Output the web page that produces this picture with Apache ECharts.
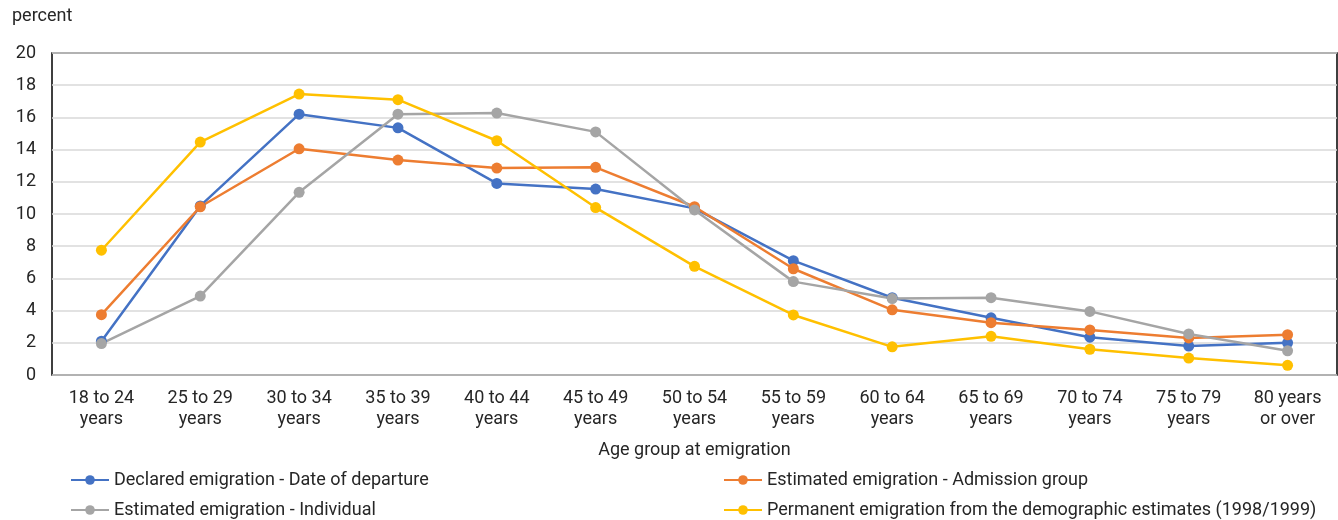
<!DOCTYPE html>
<html>
<head>
<meta charset="utf-8">
<script src="https://cdn.jsdelivr.net/npm/echarts@6/dist/echarts.min.js"></script>
<style>html,body{margin:0;padding:0;background:#fff}#c{width:1338px;height:520px}</style>
</head>
<body>
<div id="c"></div>
<script>
const categories = ['18 to 24\nyears','25 to 29\nyears','30 to 34\nyears','35 to 39\nyears','40 to 44\nyears','45 to 49\nyears','50 to 54\nyears','55 to 59\nyears','60 to 64\nyears','65 to 69\nyears','70 to 74\nyears','75 to 79\nyears','80 years\nor over'];
const declaredDeparture = [2.1, 10.5, 16.2, 15.35, 11.9, 11.55, 10.35, 7.1, 4.8, 3.55, 2.35, 1.8, 2.0];
const estimatedAdmission = [3.75, 10.45, 14.05, 13.35, 12.85, 12.9, 10.45, 6.6, 4.05, 3.25, 2.8, 2.3, 2.5];
const estimatedIndividual = [1.95, 4.9, 11.35, 16.2, 16.27, 15.1, 10.25, 5.8, 4.75, 4.8, 3.95, 2.55, 1.5];
const permanentDemographic = [7.75, 14.47, 17.45, 17.1, 14.55, 10.4, 6.75, 3.73, 1.75, 2.4, 1.6, 1.05, 0.6];
const seriesNames = ['Declared emigration - Date of departure','Estimated emigration - Admission group','Estimated emigration - Individual','Permanent emigration from the demographic estimates (1998/1999)'];
const colors = ['#4472C4','#ED7D31','#A5A5A5','#FFC000'];
const yTicks = {min:0, max:20, interval:2};

const FONT = 'Roboto, "Liberation Sans", sans-serif';
const chart = echarts.init(document.getElementById('c'), null, {renderer:'canvas'});
const dataSets = [declaredDeparture, estimatedAdmission, estimatedIndividual, permanentDemographic];
const legendText = {fontFamily: FONT, fontSize: 18, color: '#262626'};
const legendPos = [[70,471],[723,471],[70,501],[723,501]];
chart.setOption({
  animation: false,
  color: colors,
  textStyle: {fontFamily: FONT},
  grid: {left: 52, right: 1, top: 53, bottom: 145, show: true, borderColor: '#000', borderWidth: 1.5, backgroundColor: 'transparent'},
  graphic: [
    {type:'text', left: 12, top: 7, style:{text:'percent', font:'18px ' + FONT, fill:'#262626'}}
  ],
  legend: seriesNames.map((n,i) => ({
    left: legendPos[i][0], top: legendPos[i][1], itemWidth: 38, itemHeight: 12, padding: 0,
    data: [n], textStyle: legendText
  })),
  xAxis: {
    type:'category', data: categories, boundaryGap: true,
    name: 'Age group at emigration', nameLocation:'middle', nameGap: 66,
    nameTextStyle:{fontFamily: FONT, fontSize: 18, color:'#262626'},
    axisLine:{show:false}, axisTick:{show:false},
    axisLabel:{fontFamily: FONT, fontSize: 18, color:'#262626', margin: 13, lineHeight: 21, interval: 0}
  },
  yAxis: {
    type:'value', min: yTicks.min, max: yTicks.max, interval: yTicks.interval,
    axisLine:{show:false}, axisTick:{show:false},
    axisLabel:{fontFamily: FONT, fontSize: 18, color:'#262626', margin: 16},
    splitLine:{lineStyle:{color:'#d9d9d9', width:1.5}}
  },
  series: dataSets.map((d,i) => ({
    name: seriesNames[i], type:'line', data: d,
    symbol:'circle', symbolSize: 11,
    lineStyle:{width:2.5, color: colors[i]},
    itemStyle:{color: colors[i]}
  }))
});
</script>
</body>
</html>
